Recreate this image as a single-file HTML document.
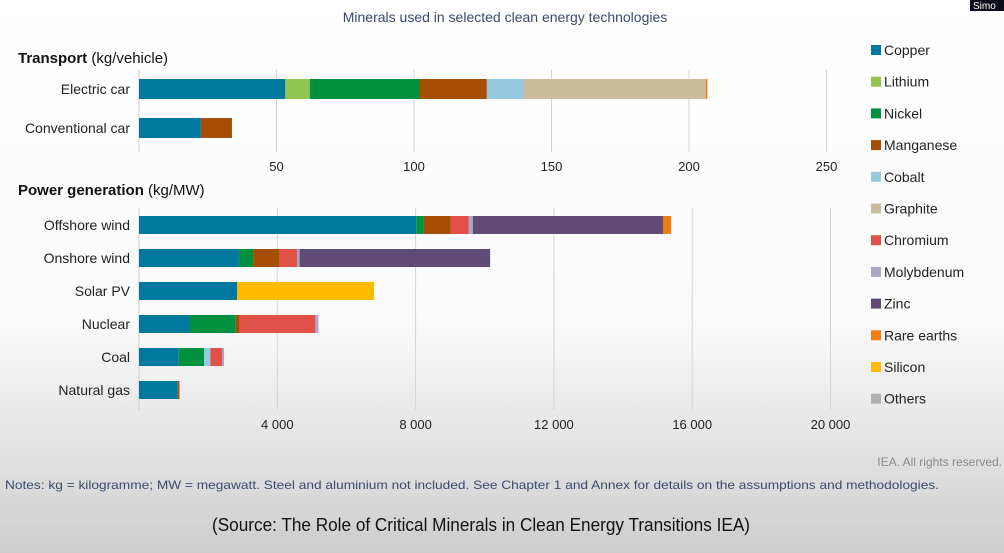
<!DOCTYPE html>
<html><head><meta charset="utf-8"><style>
body{margin:0;width:1004px;height:553px;overflow:hidden;font-family:"Liberation Sans",sans-serif;}
svg{display:block}
</style></head><body>
<svg id="chart" width="1004" height="553" xmlns="http://www.w3.org/2000/svg" font-family="Liberation Sans, sans-serif">
<defs><linearGradient id="bg" x1="0" y1="0" x2="0" y2="1">
<stop offset="0" stop-color="#ffffff"/><stop offset="0.58" stop-color="#fafafa"/><stop offset="0.8" stop-color="#e4e4e4"/><stop offset="1" stop-color="#cdcdcd"/></linearGradient></defs>
<rect width="1004" height="553" fill="url(#bg)"/>
<rect x="970" y="0" width="34" height="11" fill="#0a0a1a"/>
<text x="973" y="9" font-size="10" fill="#fff">Simo</text>
<text x="505" y="22" font-size="14" fill="#3b4a6b" text-anchor="middle">Minerals used in selected clean energy technologies</text>
<text x="18" y="63" font-size="15" fill="#111"><tspan font-weight="bold">Transport</tspan> (kg/vehicle)</text>
<text x="18" y="195" font-size="15" fill="#111"><tspan font-weight="bold">Power generation</tspan> (kg/MW)</text>
<g id="transport"></g><g id="power"></g><g id="legend"></g>
<text x="1002" y="466" font-size="12" fill="#8a8a8a" text-anchor="end">IEA. All rights reserved.</text>
<text x="5" y="489" font-size="12" fill="#3b4a6b" textLength="934" lengthAdjust="spacingAndGlyphs">Notes: kg = kilogramme; MW = megawatt. Steel and aluminium not included. See Chapter 1 and Annex for details on the assumptions and methodologies.</text>
<text x="212" y="531" font-size="18" fill="#111" textLength="538" lengthAdjust="spacingAndGlyphs">(Source: The Role of Critical Minerals in Clean Energy Transitions IEA)</text>
</svg>
<script>
const minerals=["Copper","Lithium","Nickel","Manganese","Cobalt","Graphite","Chromium","Molybdenum","Zinc","Rare earths","Silicon","Others"];
const colors=["#00789f","#8fc550","#009140","#a64f04","#94c9df","#c8bd98","#e05248","#aaa8c8","#5f4a78","#ee7d12","#ffbb00","#b0b0b0"];
const transportCats=["Electric car","Conventional car"];
const transportValues=[[53.2,8.9,39.9,24.5,13.3,66.3,0,0,0,0.6,0,0],[22.5,0,0,11.3,0,0,0,0,0,0,0,0]];
const transportTicks=[50,100,150,200,250];
const powerCats=["Offshore wind","Onshore wind","Solar PV","Nuclear","Coal","Natural gas"];
const powerValues=[
[8020,0,220,770,0,0,530,115,5500,235,0,0],
[2890,0,410,770,0,0,500,75,5510,0,0,0],
[2840,0,0,0,0,0,0,0,0,0,3960,0],
[1460,0,1340,110,0,0,2190,90,0,0,0,0],
[1150,0,730,0,185,0,335,60,0,0,0,0],
[1120,0,0,50,0,0,0,0,0,0,0,0]];
const powerTickLabels=["4 000","8 000","12 000","16 000","20 000"];
const powerTicks=[4000,8000,12000,16000,20000];
const NS="http://www.w3.org/2000/svg";
function mk(tag,attrs,parent){const e=document.createElementNS(NS,tag);for(const k in attrs)e.setAttribute(k,attrs[k]);parent.appendChild(e);return e;}
function panel(g,cats,vals,ticks,labels,x0,pxPer,yTop,step,barH,gridTop,gridBot,labelY,key){
  const xs=v=>x0+v*pxPer;
  ticks.forEach((t,i)=>{
    const l=mk('line',{x1:xs(t),x2:xs(t),y1:gridTop,y2:gridBot,stroke:'#d4d4d4','stroke-width':1},g);
    
    
    const tx=mk('text',{x:xs(t),y:labelY,'font-size':13,fill:'#222','text-anchor':'middle'},g);
    tx.textContent=labels[i];
    
    
  });
  const ax=mk('line',{x1:x0,x2:x0,y1:gridTop,y2:gridBot,stroke:'#ccc'},g);
  
  
  cats.forEach((c,ci)=>{
    const cy=yTop+ci*step;
    const lab=mk('text',{x:130,y:cy+5,'font-size':14,fill:'#222','text-anchor':'end'},g);
    lab.textContent=c;
    
    
    let acc=0;
    vals[ci].forEach((v,mi)=>{
      if(!v)return;
      const r=mk('rect',{x:xs(acc),y:cy-barH/2,width:v*pxPer,height:barH,fill:colors[mi]},g);
      
      
      acc+=v;
    });
  });
}
panel(document.getElementById('transport'),transportCats,transportValues,transportTicks,transportTicks.map(String),139,2.75,89,39,20,70,152,171,'transport');
panel(document.getElementById('power'),powerCats,powerValues,powerTicks,powerTickLabels,139,0.034575,225,33,18,208,410,429,'power');
const lg=document.getElementById('legend');
minerals.forEach((m,i)=>{
  const y=50+i*31.7;
  const s=mk('rect',{x:871,y:y-5,width:10,height:10,fill:colors[i]},lg);
  
  
  const t=mk('text',{x:884,y:y+5,'font-size':14,fill:'#222'},lg);
  t.textContent=m;
  
  
});
</script>
</body></html>
